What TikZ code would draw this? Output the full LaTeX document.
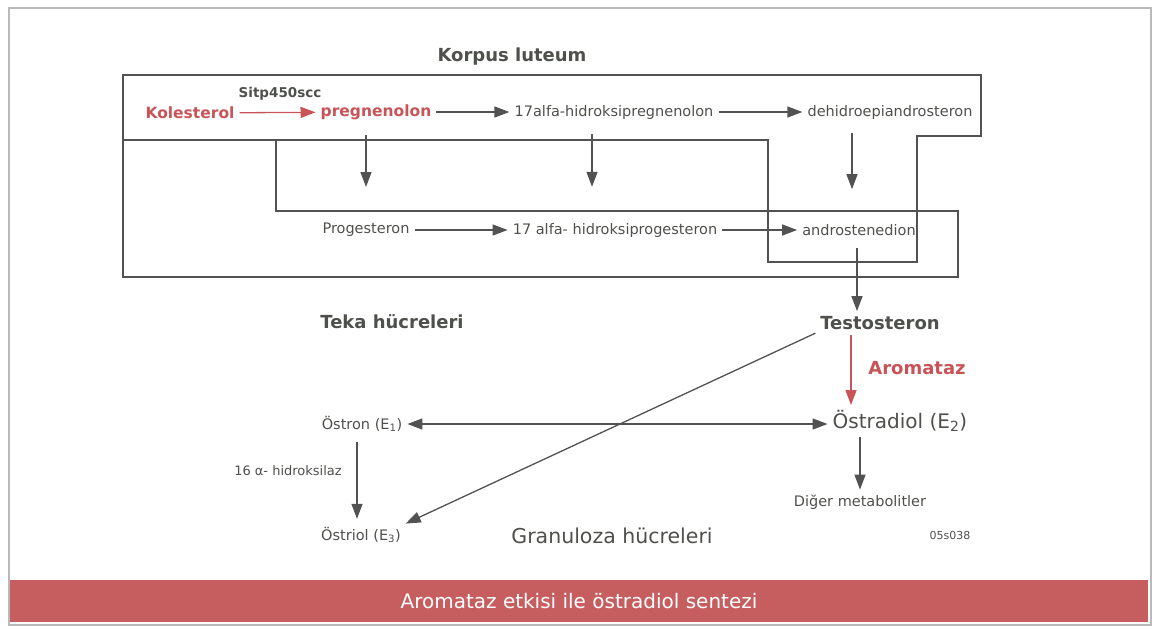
\documentclass[tikz,border=0pt]{standalone}
\usepackage{fontspec}
\setmainfont{DejaVu Sans}
\usetikzlibrary{arrows.meta, positioning}
\definecolor{txtgray}{RGB}{78,80,76}
\definecolor{linegray}{RGB}{82,82,82}
\definecolor{kred}{RGB}{200,84,88}
\definecolor{bannerred}{RGB}{198,94,96}

\begin{document}
\begin{tikzpicture}[x=1pt, y=-1pt,
  every node/.style={inner sep=2pt, text=txtgray},
  lbl/.style={font=\fontsize{14.5}{16}\selectfont},
  head/.style={font=\fontsize{18}{20}\selectfont\bfseries},
  redhead/.style={font=\fontsize{15.5}{17}\selectfont\bfseries, text=kred},
  enz/.style={font=\fontsize{13.5}{15}\selectfont\bfseries},
  big/.style={font=\fontsize{20}{22}\selectfont},
  small/.style={font=\fontsize{13}{15}\selectfont},
  tiny/.style={font=\fontsize{11}{13}\selectfont},
  frame/.style={draw=linegray, line width=1.7pt},
  arrow/.style={-{Triangle[length=15pt, width=11pt]}, linegray, line width=1.3pt,
                shorten >=3pt, shorten <=3pt},
  redarrow/.style={arrow, kred},
  dblarrow/.style={arrow, {Triangle[length=15pt, width=11pt]}-{Triangle[length=15pt, width=11pt]}}]
\useasboundingbox (0,0) rectangle (1164,629);
\draw[gray!55, line width=1.5pt] (9,8) rectangle (1151,625);
\node[fill=bannerred, minimum width=1138pt, minimum height=42pt, text=white,
      font=\fontsize{20}{22}\selectfont] (caption) at (579,601)
  {Aromataz etkisi ile östradiol sentezi};

\draw[frame] (123,75) -- (981,75) -- (981,136) -- (917,136) -- (917,262)
  -- (768,262) -- (768,140) -- (123,140) -- cycle;
\draw[frame] (123,140) -- (276,140) -- (276,211) -- (958,211) -- (958,277)
  -- (123,277) -- cycle;

\node[head] (korpus) at (512,57) {Korpus luteum};
\node[enz] (sitp) at (280,94) {Sitp450scc};
\node[redhead] (kol) at (190,113) {Kolesterol};
\node[redhead] (preg) at (376,112) {pregnenolon};
\node[lbl] (hpreg) at (614,112) {17alfa-hidroksipregnenolon};
\node[lbl] (dhea) at (890,112) {dehidroepiandrosteron};
\node[lbl] (prog) at (366,230) {Progesteron};
\node[lbl] (hprog) at (615,230) {17 alfa- hidroksiprogesteron};
\node[lbl] (andro) at (859,230) {androstenedion};
\node[head] (testo) at (880,323) {Testosteron};
\node[head] (teka) at (392,322) {Teka hücreleri};
\node[head, text=kred] (aroma) at (917,368) {Aromataz};
\node[big] (estradiol) at (900,421) {Östradiol (E\textsubscript{2})};
\node[lbl] (estron) at (362,424) {Östron (E\textsubscript{1})};
\node[lbl] (estriol) at (361,535) {Östriol (E\textsubscript{3})};
\node[lbl] (diger) at (860,502) {Diğer metabolitler};
\node[small] (hidrox) at (288,471) {16 α- hidroksilaz};
\node[big, font=\fontsize{20.5}{22}\selectfont] (granul) at (612,536) {Granuloza hücreleri};
\node[tiny] (code) at (950,535) {05s038};

\draw[redarrow] (kol) -- (preg);
\draw[arrow] (preg) -- (hpreg);
\draw[arrow] (hpreg) -- (dhea);
\draw[arrow, shorten <=13pt, shorten >=34pt] (preg.south -| prog) -- (prog.north);
\draw[arrow, shorten <=13pt, shorten >=34pt] ([xshift=-22pt]hpreg.south)
  -- ([xshift=-22pt]hpreg.south |- hprog.north);
\draw[arrow, shorten <=12pt, shorten >=33pt] ([xshift=-38pt]dhea.south)
  -- ([xshift=-38pt]dhea.south |- andro.north);
\draw[arrow] (prog) -- (hprog);
\draw[arrow] (hprog) -- (andro);
\draw[arrow, shorten <=10pt] ([xshift=-2pt]andro.south) -- ([xshift=-2pt]andro.south |- testo.north);
\draw[redarrow] ([xshift=-29pt]testo.south) -- ([xshift=-29pt]testo.south |- estradiol.north);
\draw[arrow] (testo.south west) -- (estriol.north east);
\draw[dblarrow] (estron) -- (estron -| estradiol.west);
\draw[arrow, shorten <=8pt, shorten >=6pt] ([xshift=-5pt]estron.south)
  -- ([xshift=-5pt]estron.south |- estriol.north);
\draw[arrow] (estradiol.south -| diger) -- (diger.north);
\end{tikzpicture}
\end{document}
